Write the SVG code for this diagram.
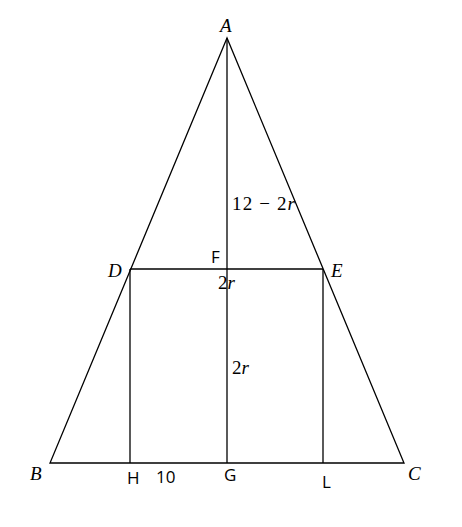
<svg xmlns="http://www.w3.org/2000/svg" width="462" height="527" viewBox="0 0 462 527">
<style>
.ln{stroke:#000;stroke-width:1.3;fill:none}
.it{font-family:"Liberation Serif",serif;font-style:italic;font-size:19px;fill:#000}
.rm{font-family:"Liberation Serif",serif;font-size:19px;fill:#000}
.sn{font-family:"Open Sans",sans-serif;font-size:17px;fill:#000}
</style>
<rect width="462" height="527" fill="#fff"/>
<g id="connectors">
<polygon class="ln" points="227,38 50,463 404,463"/>
<line class="ln" x1="227" y1="38" x2="227" y2="463"/>
<line class="ln" x1="130" y1="269" x2="323" y2="269"/>
<line class="ln" x1="130" y1="269" x2="130" y2="463"/>
<line class="ln" x1="323" y1="269" x2="323" y2="463"/>
</g>
<g id="A"><text class="it" x="220" y="32">A</text></g>
<g id="B"><text class="it" x="30" y="480">B</text></g>
<g id="C"><text class="it" x="408" y="480">C</text></g>
<g id="D"><text class="it" x="108" y="277">D</text></g>
<g id="E"><text class="it" x="331" y="277">E</text></g>
<g id="F"><text class="sn" x="211" y="263">F</text></g>
<g id="G"><text class="sn" x="224" y="481">G</text></g>
<g id="H"><text class="sn" x="127" y="484">H</text></g>
<g id="L"><text class="sn" x="322" y="488" fill="#200">L</text></g>
<g id="labels">
<text class="rm" x="218" y="289">2<tspan class="it">r</tspan></text>
<text class="rm" x="232" y="210" textLength="63" lengthAdjust="spacing">12 − 2<tspan class="it">r</tspan></text>
<text class="rm" x="232" y="374">2<tspan class="it">r</tspan></text>
<text class="sn" x="156" y="483">10</text>
</g>
</svg>
